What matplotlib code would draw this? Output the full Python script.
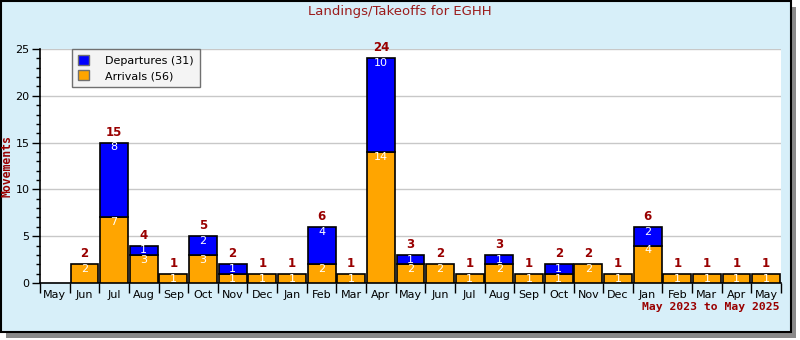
import matplotlib
matplotlib.use("Agg")
import matplotlib.pyplot as plt
from matplotlib.patches import Rectangle, Patch
from matplotlib.ticker import MultipleLocator, FixedLocator, NullFormatter
import numpy as np

months = ["May", "Jun", "Jul", "Aug", "Sep", "Oct", "Nov", "Dec", "Jan", "Feb",
          "Mar", "Apr", "May", "Jun", "Jul", "Aug", "Sep", "Oct", "Nov", "Dec",
          "Jan", "Feb", "Mar", "Apr", "May"]
arrivals = [0, 2, 7, 3, 1, 3, 1, 1, 1, 2, 1, 14, 2, 2, 1, 2, 1, 1, 2, 1, 4, 1, 1, 1, 1]
departures = [0, 0, 8, 1, 0, 2, 1, 0, 0, 4, 0, 10, 1, 0, 0, 1, 0, 1, 0, 0, 2, 0, 0, 0, 0]

W, H = 800, 340
bg = "#d7eff9"
red = "#990000"

fig = plt.figure(figsize=(W / 100, H / 100), dpi=100)
fig.patch.set_facecolor("white")

# framed panel with drop shadow
fig.add_artist(Rectangle((6 / W, 1 - 338 / H), 790 / W, 331 / H,
                         transform=fig.transFigure, facecolor="#8a8a8a",
                         edgecolor="none", zorder=0))
fig.add_artist(Rectangle((1 / W, 1 - 332 / H), 790 / W, 331 / H,
                         transform=fig.transFigure, facecolor=bg,
                         edgecolor="black", linewidth=1.5, zorder=0.1))

ax = fig.add_axes([40 / W, 1 - 283 / H, 741 / W, 234 / H])
ax.set_facecolor("white")
ax.set_zorder(1)

x = np.arange(len(months))
arr = np.array(arrivals)
dep = np.array(departures)
tot = arr + dep

bw = 0.94
for i in range(len(months)):
    if arr[i] > 0:
        ax.bar(x[i], arr[i], width=bw, color="#ffa500", edgecolor="black",
               linewidth=1.2, zorder=3)
    if dep[i] > 0:
        ax.bar(x[i], dep[i], bottom=arr[i], width=bw, color="#0000ff",
               edgecolor="black", linewidth=1.2, zorder=3)

for i in range(len(months)):
    if arr[i] > 0:
        ax.annotate(str(arr[i]), (x[i], arr[i]), xytext=(0, -3.5),
                    textcoords="offset points", ha="center", va="center",
                    color="white", fontsize=8, zorder=4)
    if dep[i] > 0:
        ax.annotate(str(dep[i]), (x[i], tot[i]), xytext=(0, -3.5),
                    textcoords="offset points", ha="center", va="center",
                    color="white", fontsize=8, zorder=4)
    if tot[i] > 0:
        ax.annotate(str(tot[i]), (x[i], tot[i]), xytext=(0, 7.5),
                    textcoords="offset points", ha="center", va="center",
                    color=red, fontsize=8.5, fontweight="bold", zorder=4)

ax.set_xlim(-0.5, len(months) - 0.5)
ax.set_ylim(0, 25)
ax.yaxis.set_major_locator(MultipleLocator(5))
ax.yaxis.set_minor_locator(MultipleLocator(1))
ax.grid(axis="y", which="major", color="#c8c8c8", linewidth=1, zorder=0)
ax.set_axisbelow(True)

ax.set_xticks(x)
ax.set_xticklabels(months, fontsize=8)
ax.tick_params(axis="x", which="major", length=0, pad=5)
ax.xaxis.set_minor_locator(FixedLocator(np.arange(-0.5, len(months), 1.0)))
ax.xaxis.set_minor_formatter(NullFormatter())
ax.tick_params(axis="x", which="minor", length=7, width=1, direction="out")
ax.tick_params(axis="y", which="major", length=6, width=1, labelsize=8, pad=1.5)
ax.tick_params(axis="y", which="minor", length=3, width=1)

for s in ("top", "right"):
    ax.spines[s].set_visible(False)
for s in ("left", "bottom"):
    ax.spines[s].set_linewidth(1.2)

ax.set_ylabel("Movements", color=red, fontsize=8.3, fontweight="bold",
              family="DejaVu Sans Mono")
ax.yaxis.set_label_coords(-27 / 741, 0.5)

fig.text(400 / W, 1 - 12 / H, "Landings/Takeoffs for EGHH", ha="center",
         va="center", color="#9b1c1c", fontsize=9.5)
fig.text(779 / W, 1 - 307 / H, "May 2023 to May 2025", ha="right",
         va="center", color=red, fontsize=8.2, fontweight="bold",
         family="DejaVu Sans Mono")

handles = [Patch(facecolor="#0000ff", edgecolor="#707070", label="Departures (31)"),
           Patch(facecolor="#ffa500", edgecolor="#707070", label="Arrivals (56)")]
leg = ax.legend(handles=handles, loc="upper left", bbox_to_anchor=(32 / 741, 1.0),
                fontsize=8, frameon=True, fancybox=False, borderaxespad=0,
                handlelength=1.0, handleheight=1.0, handletextpad=1.4,
                borderpad=0.55, labelspacing=0.4)
leg.get_frame().set_edgecolor("#707070")
leg.get_frame().set_facecolor("#f4f4f4")
leg.get_frame().set_alpha(1)
leg.get_frame().set_linewidth(1)
leg.set_zorder(5)

fig.savefig("out.png", dpi=100, facecolor=fig.get_facecolor())
